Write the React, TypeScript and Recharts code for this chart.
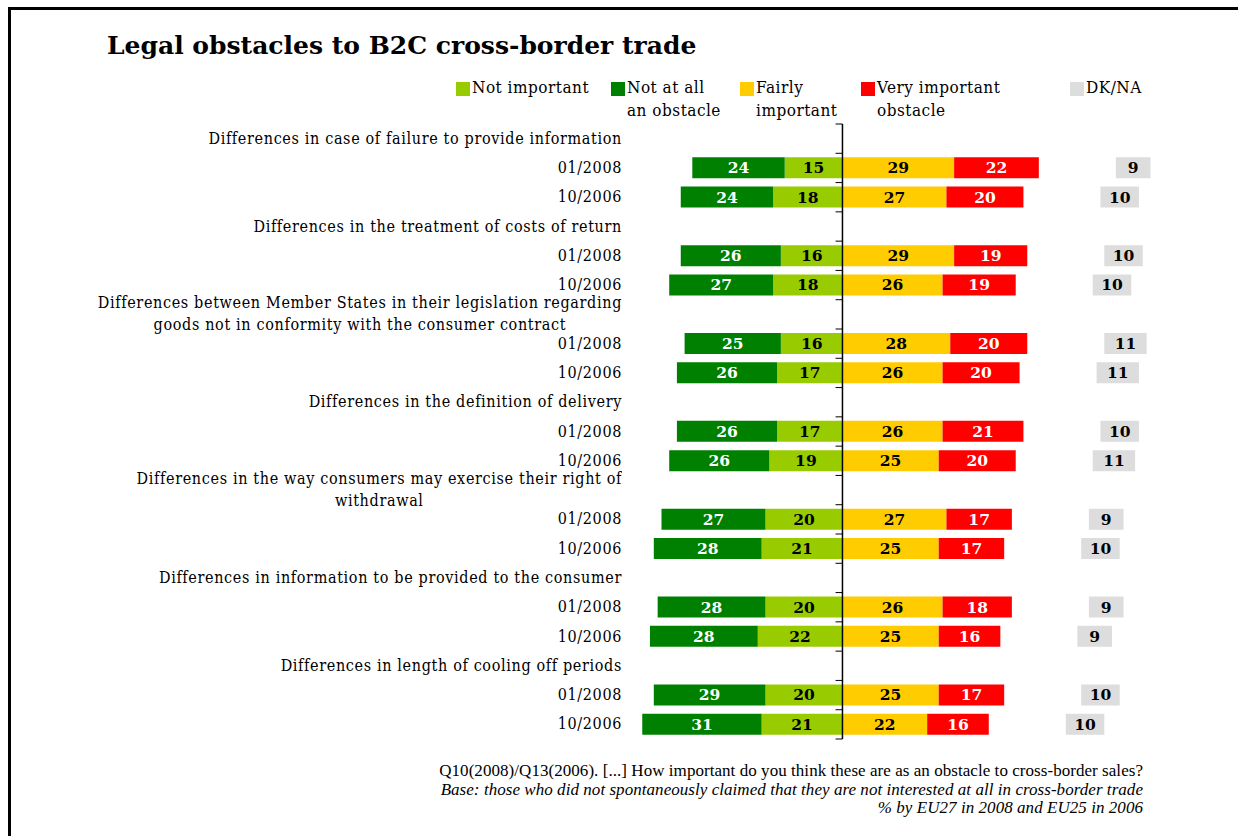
import React from 'react';
import { BarChart, Bar, XAxis, YAxis, LabelList, ReferenceLine, Legend } from 'recharts';

const headers = [
  ['Differences in case of failure to provide information'],
  ['Differences in the treatment of costs of return'],
  ['Differences between Member States in their legislation regarding', 'goods not in conformity with the consumer contract'],
  ['Differences in the definition of delivery'],
  ['Differences in the way consumers may exercise their right of', 'withdrawal'],
  ['Differences in information to be provided to the consumer'],
  ['Differences in length of cooling off periods'],
];
const periods = ['01/2008', '10/2006'];

const notImportant2008 = [15, 16, 16, 17, 20, 20, 20];
const notAtAll2008 = [24, 26, 25, 26, 27, 28, 29];
const fairly2008 = [29, 29, 28, 26, 27, 26, 25];
const very2008 = [22, 19, 20, 21, 17, 18, 17];
const dk2008 = [9, 10, 11, 10, 9, 9, 10];

const notImportant2006 = [18, 18, 17, 19, 21, 22, 21];
const notAtAll2006 = [24, 27, 26, 26, 28, 28, 31];
const fairly2006 = [27, 26, 26, 25, 25, 25, 22];
const very2006 = [20, 19, 20, 20, 17, 16, 16];
const dk2006 = [10, 10, 11, 11, 10, 9, 10];

// empty space between the "important" stack and the DK/NA box
const DK_GAP = 20;

const C_NOTIMP = '#99cc00';
const C_NOTATALL = '#008000';
const C_FAIRLY = '#ffcc00';
const C_VERY = '#ff0000';
const C_DK = '#dddddd';

const SERIF = "'DejaVu Serif Condensed', 'DejaVu Serif', serif";
const BOLD_SERIF = "'DejaVu Serif', serif";
const FOOT = "'Liberation Serif', serif";

type Row = {
  id: string;
  lines: string[];
  notImp?: number;
  notAtAll?: number;
  fairly?: number;
  very?: number;
  gap?: number;
  dk?: number;
};

const rows: Row[] = [];
headers.forEach((h, i) => {
  rows.push({ id: `h${i}`, lines: h });
  rows.push({
    id: `a${i}`,
    lines: [periods[0]],
    notImp: -notImportant2008[i],
    notAtAll: -notAtAll2008[i],
    fairly: fairly2008[i],
    very: very2008[i],
    gap: DK_GAP,
    dk: dk2008[i],
  });
  rows.push({
    id: `b${i}`,
    lines: [periods[1]],
    notImp: -notImportant2006[i],
    notAtAll: -notAtAll2006[i],
    fairly: fairly2006[i],
    very: very2006[i],
    gap: DK_GAP,
    dk: dk2006[i],
  });
});
const rowById: Record<string, Row> = {};
rows.forEach((r) => (rowById[r.id] = r));

const legendSpots: Record<string, number> = { notImp: 456, notAtAll: 611, fairly: 740, very: 861, dk: 1070 };

const absLabel = (v: any) => (v == null ? '' : Math.abs(Number(v)));

const labelStyle = { fontFamily: BOLD_SERIF, fontWeight: 700, fontSize: 15.5 };

const RowTick = (props: any) => {
  const { x, y, payload } = props;
  const row = rowById[payload.value];
  if (!row) return null;
  const textStyle = { fontFamily: SERIF, fontStretch: 'condensed', fontSize: 16, letterSpacing: 0.65 } as any;
  if (row.lines.length > 1) {
    return (
      <foreignObject x={x - 600} y={y - 24} width={600} height={48}>
        <div style={{ display: 'flex', justifyContent: 'flex-end', alignItems: 'center', height: '100%' }}>
          <div style={{ ...textStyle, textAlign: 'center', lineHeight: '22px', color: '#000', whiteSpace: 'nowrap' }}>
            {row.lines.map((l) => (
              <div key={l}>{l}</div>
            ))}
          </div>
        </div>
      </foreignObject>
    );
  }
  return (
    <text x={x} y={y} dy={5} textAnchor="end" fill="#000" style={textStyle}>
      {row.lines[0]}
    </text>
  );
};

const renderLegend = (props: any) => {
  const items = (props.payload || []).filter((p: any) => legendSpots[p.dataKey] != null);
  return (
    <div style={{ position: 'relative', width: 1238, height: 0 }}>
      {items.map((p: any) => (
        <div key={p.dataKey} style={{ position: 'absolute', left: legendSpots[p.dataKey], top: 76 }}>
          <div style={{ position: 'absolute', left: 0, top: 6, width: 14, height: 14, background: p.color }} />
          <div
            style={{
              position: 'absolute',
              left: 16,
              top: 0,
              fontFamily: SERIF,
              fontStretch: 'condensed',
              fontSize: 17,
              letterSpacing: 0.5,
              lineHeight: '23px',
              whiteSpace: 'pre',
              color: '#000',
            }}
          >
            {p.value}
          </div>
        </div>
      ))}
    </div>
  );
};

export default function App() {
  const last = rows[rows.length - 1].id;
  return (
    <div style={{ position: 'absolute', left: 0, top: 0, width: 1238, height: 836, overflow: 'hidden', background: '#fff' }}>
      <div
        style={{
          position: 'absolute',
          left: 8,
          top: 7,
          width: 1300,
          height: 900,
          borderLeft: '3px solid #000',
          borderTop: '3px solid #000',
        }}
      />
      <div
        style={{
          position: 'absolute',
          left: 107,
          top: 31,
          fontFamily: BOLD_SERIF,
          fontWeight: 700,
          fontSize: 25,
          color: '#000',
          whiteSpace: 'nowrap',
        }}
      >
        Legal obstacles to B2C cross-border trade
      </div>
      <div style={{ position: 'absolute', left: 0, top: 0 }}>
        <BarChart
          width={1238}
          height={836}
          data={rows}
          layout="vertical"
          stackOffset="sign"
          barSize={21}
          margin={{ top: 124, right: 49, bottom: 97, left: 23 }}
        >
          <XAxis type="number" domain={[-57, 90]} hide allowDataOverflow />
          <YAxis
            type="category"
            dataKey="id"
            width={600}
            axisLine={false}
            tickLine={false}
            tickSize={0}
            tickMargin={1}
            interval={0}
            tick={<RowTick />}
          />
          <Legend
            layout="vertical"
            align="center"
            verticalAlign="middle"
            content={renderLegend}
            wrapperStyle={{ position: 'absolute', left: 0, top: 0, width: 1238 }}
          />
          <Bar dataKey="notImp" name="Not important" stackId="s" fill={C_NOTIMP} isAnimationActive={false}>
            <LabelList dataKey="notImp" position="center" formatter={absLabel} fill="#000" style={labelStyle} />
          </Bar>
          <Bar dataKey="notAtAll" name={'Not at all\nan obstacle'} stackId="s" fill={C_NOTATALL} isAnimationActive={false}>
            <LabelList dataKey="notAtAll" position="center" formatter={absLabel} fill="#fff" style={labelStyle} />
          </Bar>
          <Bar dataKey="fairly" name={'Fairly\nimportant'} stackId="s" fill={C_FAIRLY} isAnimationActive={false}>
            <LabelList dataKey="fairly" position="center" formatter={absLabel} fill="#000" style={labelStyle} />
          </Bar>
          <Bar dataKey="very" name={'Very important\nobstacle'} stackId="s" fill={C_VERY} isAnimationActive={false}>
            <LabelList dataKey="very" position="center" formatter={absLabel} fill="#fff" style={labelStyle} />
          </Bar>
          <Bar dataKey="gap" name="gap" stackId="s" fill="transparent" legendType="none" isAnimationActive={false} />
          <Bar dataKey="dk" name="DK/NA" stackId="s" fill={C_DK} isAnimationActive={false}>
            <LabelList dataKey="dk" position="center" formatter={absLabel} fill="#000" style={labelStyle} />
          </Bar>
          <ReferenceLine x={0} stroke="#000" strokeWidth={1.5} />
          {rows.map((r) => (
            <ReferenceLine
              key={`t${r.id}`}
              segment={[{ x: -1.8, y: r.id }, { x: 0, y: r.id }]}
              position="start"
              stroke="#000"
            />
          ))}
          <ReferenceLine segment={[{ x: -1.8, y: last }, { x: 0, y: last }]} position="end" stroke="#000" />
        </BarChart>
      </div>
      <div
        style={{
          position: 'absolute',
          right: 1238 - 1143,
          top: 762,
          textAlign: 'right',
          fontFamily: FOOT,
          fontSize: 17,
          letterSpacing: 0.05,
          lineHeight: '18.5px',
          color: '#000',
          whiteSpace: 'nowrap',
        }}
      >
        <div>Q10(2008)/Q13(2006). [...] How important do you think these are as an obstacle to cross-border sales?</div>
        <div style={{ fontStyle: 'italic' }}>
          Base: those who did not spontaneously claimed that they are not interested at all in cross-border trade
        </div>
        <div style={{ fontStyle: 'italic' }}>% by EU27 in 2008 and EU25 in 2006</div>
      </div>
    </div>
  );
}
